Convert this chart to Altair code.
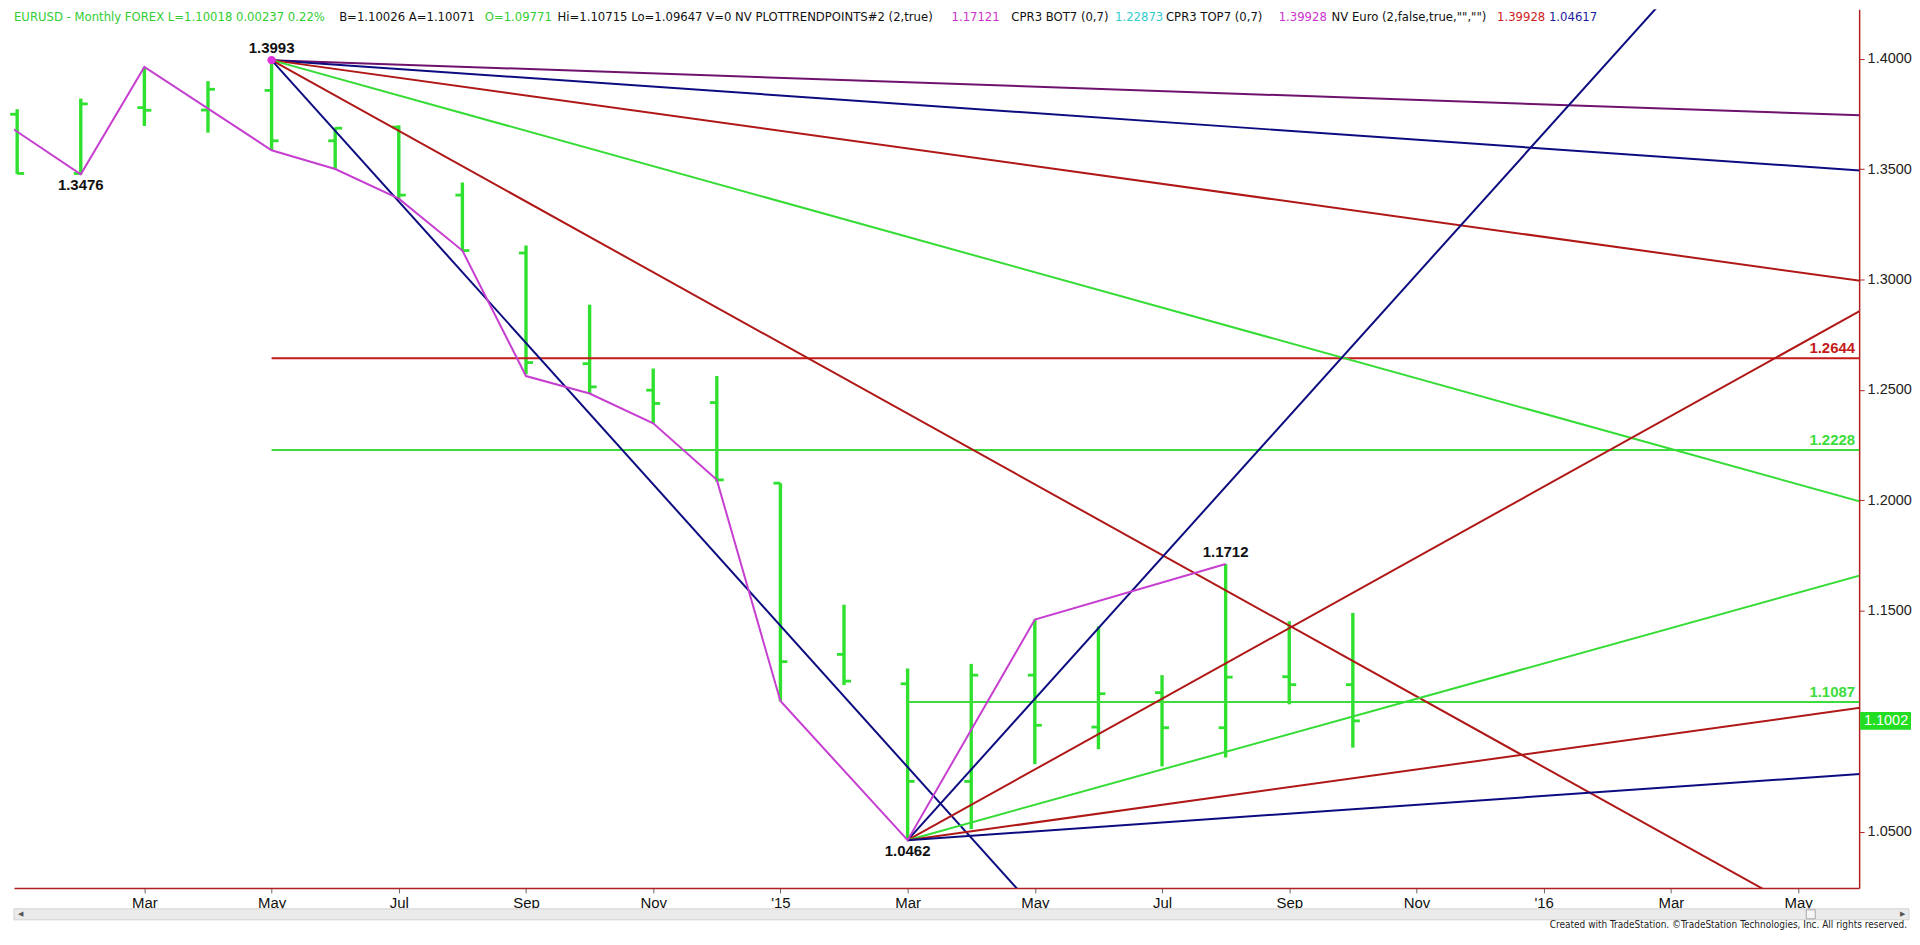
import altair as alt
import pandas as pd

# ---------------- data ----------------
month_names = ['Jan', 'Feb', 'Mar', 'Apr', 'May', 'Jun', 'Jul', 'Aug', 'Sep', 'Oct', 'Nov', 'Dec']
tick_months = [2, 4, 6, 8, 10, 12, 14, 16, 18, 20, 22, 24, 26, 28]   # 0 = Jan 2014
price_ticks = [1.05, 1.15, 1.20, 1.25, 1.30, 1.35, 1.40]

bar_month = list(range(22))  # Jan 2014 .. Oct 2015
bar_open = [1.3748, 1.3480, 1.3778, 1.3767, 1.3856, 1.3628, 1.3690, 1.3382, 1.3120, 1.2619, 1.2499,
            1.2443, 1.2078, 1.1303, 1.1170, 1.0728, 1.1209, 1.0974, 1.1130, 1.0971, 1.1202, 1.1166]
bar_high = [1.3771, 1.3819, 1.3962, 1.3898, 1.3993, 1.3688, 1.3698, 1.3439, 1.3154, 1.2886, 1.2597,
            1.2563, 1.2078, 1.1528, 1.1239, 1.1260, 1.1460, 1.1430, 1.1209, 1.1712, 1.1453, 1.1491]
bar_low = [1.3478, 1.3476, 1.3695, 1.3665, 1.3585, 1.3500, 1.3366, 1.3128, 1.2571, 1.2484, 1.2349,
           1.2085, 1.1092, 1.1164, 1.0462, 1.0512, 1.0806, 1.0874, 1.0796, 1.0836, 1.1077, 1.0881]
bar_close = [1.3480, 1.3795, 1.3766, 1.3861, 1.3628, 1.3685, 1.3382, 1.3131, 1.2624, 1.2514, 1.2439,
             1.2093, 1.1270, 1.1182, 1.0728, 1.1209, 1.0982, 1.1125, 1.0971, 1.1200, 1.1166, 1.1002]

trend_month = [-1, 1, 2, 4, 5, 6, 7, 8, 9, 10, 11, 12, 14, 16, 19]
trend_price = [1.3862, 1.3476, 1.3962, 1.3585, 1.3500, 1.3366, 1.3131, 1.2563, 1.2484, 1.2349,
               1.2093, 1.1092, 1.0462, 1.1461, 1.1712]

fan_names = ['t1x8', 't1x4', 't1x2', 't1x1', 't2x1', 't4x1',
             'b4x1', 'b2x1', 'b1x1', 'b1x2', 'b1x4']
fan_start_month = [4, 4, 4, 4, 4, 4, 14, 14, 14, 14, 14]
fan_start_price = [1.3993, 1.3993, 1.3993, 1.3993, 1.3993, 1.3993,
                   1.0462, 1.0462, 1.0462, 1.0462, 1.0462]
fan_end_month = [29, 29, 29, 29, 29, 29, 29, 29, 29, 29, 29]
fan_end_price = [1.3743, 1.3493, 1.2993, 1.1993, 0.9993, 0.5993,
                 1.5262, 1.2862, 1.1662, 1.1062, 1.0762]

level_names = ['r1', 'g1', 'g2']
level_price = [1.2644, 1.2228, 1.1087]
level_start = [4, 4, 14]
level_end = [29, 29, 29]
level_label = ['1.2644', '1.2228', '1.1087']

pivot_month = [4, 1, 14, 19]
pivot_price = [1.3993, 1.3476, 1.0462, 1.1712]
pivot_label = ['1.3993', '1.3476', '1.0462', '1.1712']
pivot_side = ['above', 'below', 'below', 'above']

last_price = [1.1002]
last_label = ['1.1002']

title_texts = ['EURUSD - Monthly  FOREX  L=1.10018  0.00237  0.22%', 'B=1.10026  A=1.10071', 'O=1.09771',
               'Hi=1.10715  Lo=1.09647  V=0  NV  PLOTTRENDPOINTS#2 (2,true)', '1.17121', 'CPR3 BOT7 (0,7)',
               '1.22873', 'CPR3 TOP7 (0,7)', '1.39928', 'NV Euro (2,false,true,"","")', '1.39928', '1.04617']

# ---------------- styles / layout ----------------
title_colors = ['#33cc33', '#111111', '#33cc33', '#111111', '#cc33cc', '#111111',
                '#33cccc', '#111111', '#cc33cc', '#111111', '#cc2222', '#1a1a99']
title_x = [0, 326, 472, 545, 940, 1000, 1104, 1155, 1268, 1321, 1487, 1539]

GREEN = '#2fe02f'
NAVY = '#0c0c80'
DRED = '#b01818'
PURPLE = '#6e126e'
FGREEN = '#36dc36'
MAGENTA = '#c63fd0'
AXRED = '#b02020'
fan_colors = [PURPLE, NAVY, DRED, FGREEN, DRED, NAVY, NAVY, DRED, FGREEN, DRED, NAVY]
level_colors = ['#c41a1a', '#3ddc3d', '#3ddc3d']

W, H = 1850, 881
xs = alt.Scale(domain=[-0.05, 28.96], nice=False, zero=False)
ys = alt.Scale(domain=[1.0246, 1.42235], nice=False, zero=False)
FONT = 'Liberation Sans, Arial, sans-serif'
NARROW = 'Liberation Sans Narrow, Arial Narrow, DejaVu Sans Condensed, sans-serif'

# ---------------- tables ----------------
bars = pd.DataFrame({'m': bar_month, 'o': bar_open, 'h': bar_high, 'l': bar_low, 'c': bar_close})
trend = pd.DataFrame({'m': trend_month, 'p': trend_price})
fan_rows = []
for i, n in enumerate(fan_names):
    fan_rows.append({'line': n, 'm': fan_start_month[i], 'p': fan_start_price[i], 'k': 0})
    fan_rows.append({'line': n, 'm': fan_end_month[i], 'p': fan_end_price[i], 'k': 1})
fans = pd.DataFrame(fan_rows)
levels = pd.DataFrame({'line': level_names, 'm': level_start, 'm2': level_end, 'p': level_price,
                       'label': level_label})
pivots = pd.DataFrame({'m': pivot_month, 'p': pivot_price, 'label': pivot_label, 'side': pivot_side})
last = pd.DataFrame({'p': last_price, 'label': last_label})
one = pd.DataFrame({'a': [0]})

month_arr = '[' + ','.join("'%s'" % m for m in month_names) + ']'
label_expr = "datum.value == 12 ? \"'15\" : datum.value == 24 ? \"'16\" : " + month_arr + "[datum.value % 12]"

x_axis = alt.Axis(values=tick_months, labelExpr=label_expr, title=None, grid=False,
                  domainColor=AXRED, domainWidth=1.5, tickColor='#666666', tickSize=5,
                  labelFont=FONT, labelFontSize=15, labelColor='#111111', labelPadding=3)
y_axis = alt.Axis(orient='right', values=price_ticks, format='.4f', title=None, grid=False,
                  domainColor=AXRED, domainWidth=1.5, tickColor=AXRED, tickSize=5,
                  labelFont=FONT, labelFontSize=14.5, labelColor='#222222', labelPadding=3)


def X(f):
    return alt.X(f, scale=xs, axis=x_axis)


def Y(f):
    return alt.Y(f, scale=ys, axis=y_axis)


# ---------------- layers ----------------
hl = alt.Chart(bars).mark_rule(color=GREEN, strokeWidth=3.4).encode(
    x=X('m:Q'), y=Y('l:Q'), y2='h:Q')
open_t = alt.Chart(bars).mark_rule(color=GREEN, strokeWidth=2.8, xOffset=-7, x2Offset=0).encode(
    x=X('m:Q'), x2='m:Q', y=Y('o:Q'))
close_t = alt.Chart(bars).mark_rule(color=GREEN, strokeWidth=2.8, xOffset=0, x2Offset=7).encode(
    x=X('m:Q'), x2='m:Q', y=Y('c:Q'))

lev = alt.Chart(levels).mark_rule(strokeWidth=2, clip=True).encode(
    x=X('m:Q'), x2='m2:Q', y=Y('p:Q'),
    color=alt.Color('line:N', scale=alt.Scale(domain=level_names, range=level_colors), legend=None))
lev_txt = alt.Chart(levels).mark_text(align='right', baseline='middle', dy=-10, font=FONT,
                                      fontSize=15, fontWeight='bold').encode(
    x=alt.value(W - 4), y=Y('p:Q'), text='label:N',
    color=alt.Color('line:N', scale=alt.Scale(domain=level_names, range=level_colors), legend=None))

fan = alt.Chart(fans).mark_line(strokeWidth=2, clip=True).encode(
    x=X('m:Q'), y=Y('p:Q'), detail='line:N', order='k:Q',
    color=alt.Color('line:N', scale=alt.Scale(domain=fan_names, range=fan_colors), legend=None))

tr = alt.Chart(trend).mark_line(color=MAGENTA, strokeWidth=2, clip=True).encode(
    x=X('m:Q'), y=Y('p:Q'))

dot = alt.Chart(pivots).transform_filter(alt.datum.m == 4).mark_circle(
    color='#e030e0', opacity=1, size=70).encode(x=X('m:Q'), y=Y('p:Q'))

piv_up = alt.Chart(pivots).transform_filter(alt.datum.side == 'above').mark_text(
    baseline='middle', dy=-12, font=FONT, fontSize=15, fontWeight='bold', color='#111111').encode(
    x=X('m:Q'), y=Y('p:Q'), text='label:N')
piv_dn = alt.Chart(pivots).transform_filter(alt.datum.side == 'below').mark_text(
    baseline='middle', dy=11, font=FONT, fontSize=15, fontWeight='bold', color='#111111').encode(
    x=X('m:Q'), y=Y('p:Q'), text='label:N')

box = alt.Chart(last).mark_rect(color='#22dd22', yOffset=-9, y2Offset=9).encode(
    x=alt.value(W + 1), x2=alt.value(W + 52), y=Y('p:Q'), y2='p:Q')
box_txt = alt.Chart(last).mark_text(color='white', font=FONT, fontSize=14.5, align='center',
                                    baseline='middle').encode(
    x=alt.value(W + 27), y=Y('p:Q'), text='label:N')

title_layers = []
for t, c, xp in zip(title_texts, title_colors, title_x):
    title_layers.append(alt.Chart(one).mark_text(align='left', baseline='top', font=NARROW,
                                                 fontSize=13, color=c).encode(
        x=alt.value(xp), y=alt.value(2), text=alt.value(t)))

scroll = alt.Chart(one).mark_rect(fill='#ebebeb', stroke='#d2d2d2', strokeWidth=1).encode(
    x=alt.value(0), x2=alt.value(1900), y=alt.value(902), y2=alt.value(913))
thumb = alt.Chart(one).mark_rect(fill='#f6f6f6', stroke='#a8a8a8', strokeWidth=1).encode(
    x=alt.value(1797), x2=alt.value(1806), y=alt.value(903), y2=alt.value(912))
arr_l = alt.Chart(one).mark_text(fontSize=7, color='#555555', baseline='middle').encode(
    x=alt.value(7), y=alt.value(907.5), text=alt.value('◀'))
arr_r = alt.Chart(one).mark_text(fontSize=7, color='#555555', baseline='middle').encode(
    x=alt.value(1893), y=alt.value(907.5), text=alt.value('▶'))
credit = alt.Chart(one).mark_text(align='right', baseline='bottom', font=NARROW, fontSize=10,
                                  color='#222222').encode(
    x=alt.value(1898), y=alt.value(923),
    text=alt.value('Created with TradeStation. ©TradeStation Technologies, Inc. All rights reserved.'))

chart = alt.layer(
    hl, open_t, close_t, lev, fan, tr, dot, piv_up, piv_dn, lev_txt, box, box_txt,
    scroll, thumb, arr_l, arr_r, credit, *title_layers
).resolve_scale(color='independent').properties(
    width=W, height=H, padding=0, background='white'
).configure_view(stroke=None)

chart.save("out.html", embed_options={"renderer": "svg", "actions": False})
